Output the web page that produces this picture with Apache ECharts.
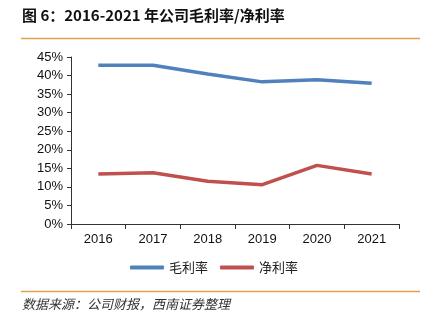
<!DOCTYPE html>
<html><head><meta charset="utf-8">
<script src="https://cdn.jsdelivr.net/npm/echarts@6/dist/echarts.min.js"></script>
<style>html,body{margin:0;padding:0;background:#fff}#c{width:428px;height:322px}</style>
</head><body><div id="c"></div>
<script>
const categories = ['2016','2017','2018','2019','2020','2021'];
const grossMargin = [42.8, 42.8, 40.4, 38.3, 38.9, 37.9];
const netMargin = [13.5, 13.8, 11.5, 10.6, 15.8, 13.5];
const seriesNames = ['毛利率','净利率'];
const titleText = '图 6：2016-2021 年公司毛利率/净利率';
const sourceText = '数据来源：公司财报，西南证券整理';

const chart = echarts.init(document.getElementById('c'));
chart.setOption({
  animation: false,
  textStyle: {fontFamily: 'Liberation Sans, Arial, sans-serif'},
  grid: {left: 71, right: 29, top: 57, bottom: 98},
  legend: {
    bottom: 43, left: 'center', itemWidth: 34, itemHeight: 4, itemGap: 12,
    icon: 'roundRect',
    textStyle: {fontSize: 13, color: '#222', fontFamily: 'Noto Sans CJK SC'},
    data: seriesNames
  },
  xAxis: {
    type: 'category', data: categories, boundaryGap: true,
    axisLine: {lineStyle: {color: '#333', width: 1}},
    axisTick: {show: true, length: 5, lineStyle: {color: '#333'}},
    axisLabel: {fontSize: 13, color: '#111', margin: 9}
  },
  yAxis: {
    type: 'value', min: 0, max: 45, interval: 5,
    axisLine: {show: true, lineStyle: {color: '#333', width: 1}},
    axisTick: {show: true, length: 4, lineStyle: {color: '#333'}},
    splitLine: {show: false},
    axisLabel: {fontSize: 13, color: '#111', margin: 8, formatter: '{value}%'}
  },
  series: [
    {name: seriesNames[0], type: 'line', data: grossMargin, symbol: 'none',
     lineStyle: {color: '#4F81BD', width: 3.5}, itemStyle: {color: '#4F81BD'}},
    {name: seriesNames[1], type: 'line', data: netMargin, symbol: 'none',
     lineStyle: {color: '#C0504D', width: 3.5}, itemStyle: {color: '#C0504D'}}
  ],
  graphic: [
    {type: 'text', left: 22, top: 8, style: {text: titleText, fontSize: 15, fontWeight: 'bold', fill: '#111', fontFamily: 'Noto Sans CJK SC'}},
    {type: 'line', shape: {x1: 21, y1: 38.5, x2: 420, y2: 38.5}, style: {stroke: '#E0A04F', lineWidth: 1.5}},
    {type: 'line', shape: {x1: 21, y1: 291.5, x2: 420, y2: 291.5}, style: {stroke: '#E0A04F', lineWidth: 1.5}},
    {type: 'text', left: 22, top: 298, style: {text: sourceText, fontSize: 13, fontStyle: 'italic', fill: '#333', fontFamily: 'Noto Sans CJK SC'}}
  ]
});
</script></body></html>
